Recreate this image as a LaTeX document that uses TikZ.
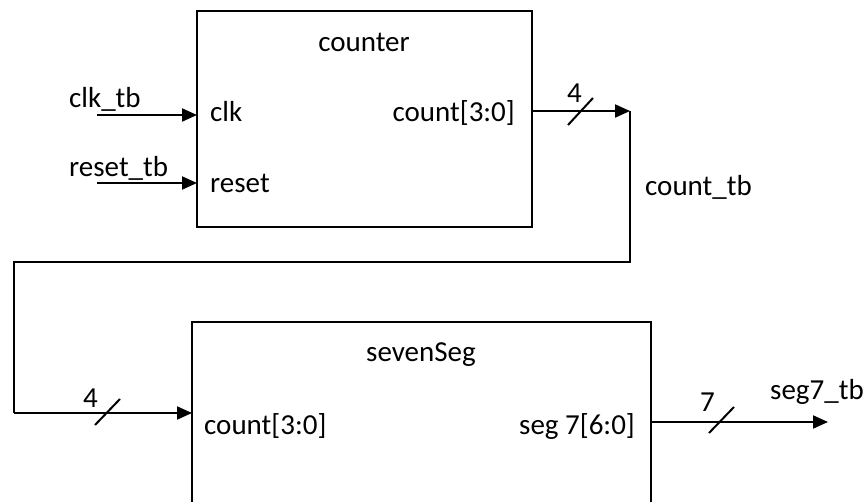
\documentclass[tikz,border=0pt]{standalone}
\usepackage{fontspec}
\setmainfont{Carlito}
\usetikzlibrary{arrows.meta}
\begin{document}
\begin{tikzpicture}[x=1pt,y=-1pt,
  wire/.style={line width=2pt},
  sig/.style={wire,-{Triangle[length=15pt,width=13pt]}},
  block/.style={draw,line width=2pt,inner sep=0pt,outer sep=0pt},
  lbl/.style={inner sep=0pt,font=\fontsize{29}{34}\selectfont},
  busmark/.style={line width=2pt}]
\useasboundingbox (0,0) rectangle (868,502);
\clip (0,0) rectangle (868,502);

% module blocks
\node[block,minimum width=335pt,minimum height=216pt] (counter) at (364.5,119) {};
\node[block,minimum width=459pt,minimum height=198pt] (seven) at (421.5,421) {};

% block titles and port names
\node[lbl,anchor=base] (tcounter) at (364,51.5) {counter};
\node[lbl,anchor=base west] (pclk) at (210,122) {clk};
\node[lbl,anchor=base west] (preset) at (210,193) {reset};
\node[lbl,anchor=base east] (pcount) at (515,122) {count[3:0]};
\node[lbl,anchor=base] (tseven) at (421,362) {sevenSeg};
\node[lbl,anchor=base west] (pcountin) at (204,435) {count[3:0]};
\node[lbl,anchor=base east] (pseg) at (635,435) {seg 7[6:0]};

% testbench signal names
\node[lbl,anchor=base west] (nclk) at (69,108) {clk\_tb};
\node[lbl,anchor=base west] (nreset) at (69,177) {reset\_tb};
\node[lbl,anchor=base west] (ncount) at (645,196) {count\_tb};
\node[lbl,anchor=base west] (nseg) at (770,400) {seg7\_tb};

% inputs of the counter
\coordinate (clkin) at (97,115);
\coordinate (rstin) at (97,183);
\draw[sig] (clkin) -- (clkin -| counter.west);
\draw[sig] (rstin) -- (rstin -| counter.west);

% count bus from counter to sevenSeg
\coordinate (cnt1) at (630,111);
\coordinate (cnt2) at (630,262);
\coordinate (cnt3) at (14,262);
\coordinate (cnt4) at (14,413);
\draw[sig] (counter.east |- cnt1) -- (cnt1);
\draw[wire] (cnt1) -- (cnt2) -- (cnt3) -- (cnt4);
\draw[sig] (cnt4) -- (cnt4 -| seven.west);

% seg output
\coordinate (segout) at (828,422);
\draw[sig] (seven.east |- segout) -- (segout);

% bus width marks
\coordinate (m1a) at (568,125); \coordinate (m1b) at (593,98);
\coordinate (m2a) at (95,425);  \coordinate (m2b) at (120,399);
\coordinate (m3a) at (709,433); \coordinate (m3b) at (734,407);
\draw[busmark] (m1a) -- (m1b);
\draw[busmark] (m2a) -- (m2b);
\draw[busmark] (m3a) -- (m3b);
\node[lbl,anchor=base west] (w1) at (567,103) {4};
\node[lbl,anchor=base west] (w2) at (83,408) {4};
\node[lbl,anchor=base west] (w3) at (700,412) {7};
\end{tikzpicture}
\end{document}
